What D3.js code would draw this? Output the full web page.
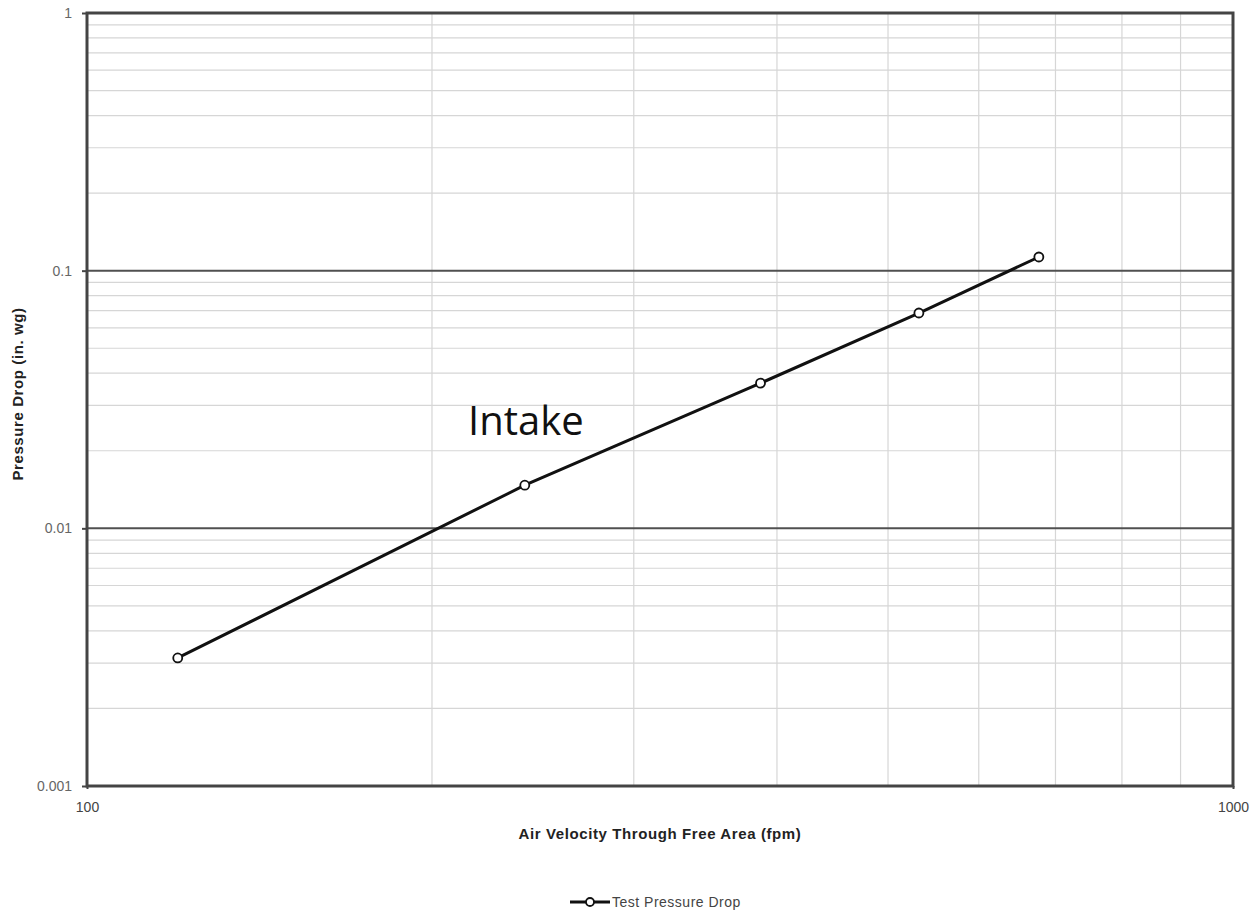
<!DOCTYPE html>
<html>
<head>
<meta charset="utf-8">
<script src="https://cdn.jsdelivr.net/npm/d3@7"></script>
<style>
  body { margin: 0; background: #fff; }
  svg { display: block; font-family: "Liberation Sans", Arial, sans-serif; }
</style>
</head>
<body>
<svg id="chart" width="1259" height="912"></svg>
<script>
// data
const velocity = [120, 241, 387, 532, 677];
const pressureDrop = [0.00314, 0.0147, 0.0366, 0.0685, 0.113];
const xTicks = [100, 1000];
const yTicks = [0.001, 0.01, 0.1, 1];
const seriesName = 'Test Pressure Drop';

const svg = d3.select('#chart');
const margin = { top: 13, right: 26, bottom: 126, left: 87 };
const width = 1259 - margin.left - margin.right;
const height = 912 - margin.top - margin.bottom;

const x = d3.scaleLog().domain([100, 1000]).range([margin.left, margin.left + width]);
const y = d3.scaleLog().domain([0.001, 1]).range([margin.top + height, margin.top]);

// minor grid
const minorX = [];
for (let i = 2; i <= 9; i++) minorX.push(i * 100);
const minorY = [];
[0.001, 0.01, 0.1].forEach(d => { for (let i = 2; i <= 9; i++) minorY.push(d * i); });

svg.append('g').selectAll('line').data(minorX).join('line')
  .attr('x1', d => x(d)).attr('x2', d => x(d))
  .attr('y1', margin.top).attr('y2', margin.top + height)
  .attr('stroke', '#d6d6d6').attr('stroke-width', 1.2);

svg.append('g').selectAll('line').data(minorY).join('line')
  .attr('x1', margin.left).attr('x2', margin.left + width)
  .attr('y1', d => y(d)).attr('y2', d => y(d))
  .attr('stroke', '#d6d6d6').attr('stroke-width', 1.2);

// major horizontal grid
svg.append('g').selectAll('line').data([0.01, 0.1]).join('line')
  .attr('x1', margin.left).attr('x2', margin.left + width)
  .attr('y1', d => y(d)).attr('y2', d => y(d))
  .attr('stroke', '#505050').attr('stroke-width', 2);

// frame
svg.append('rect')
  .attr('x', margin.left).attr('y', margin.top)
  .attr('width', width).attr('height', height)
  .attr('fill', 'none').attr('stroke', '#444').attr('stroke-width', 3);

// axes
const yAxis = svg.append('g')
  .attr('transform', `translate(${margin.left},0)`)
  .call(d3.axisLeft(y).tickValues(yTicks).tickFormat(d3.format('~g')).tickSize(5).tickPadding(10));
yAxis.select('.domain').remove();
yAxis.selectAll('line').attr('stroke', '#444').attr('stroke-width', 2);
yAxis.selectAll('text').attr('fill', '#666').style('font-size', '14px');

const xAxis = svg.append('g')
  .attr('transform', `translate(0,${margin.top + height})`)
  .call(d3.axisBottom(x).tickValues(xTicks).tickFormat(d3.format('~g')).tickSize(3).tickPadding(13));
xAxis.select('.domain').remove();
xAxis.selectAll('line').attr('stroke', '#444').attr('stroke-width', 2);
xAxis.selectAll('text').attr('fill', '#444').style('font-size', '14px');

// axis titles
svg.append('text')
  .attr('transform', `translate(23,394) rotate(-90)`)
  .attr('text-anchor', 'middle')
  .style('font-size', '15px').style('font-weight', 'bold').style('letter-spacing', '0.6px')
  .attr('fill', '#222')
  .text('Pressure Drop (in. wg)');

svg.append('text')
  .attr('x', 660).attr('y', 839)
  .attr('text-anchor', 'middle')
  .style('font-size', '15px').style('font-weight', 'bold').style('letter-spacing', '0.6px')
  .attr('fill', '#222')
  .text('Air Velocity  Through Free Area (fpm)');

// series
const points = velocity.map((v, i) => ({ v, p: pressureDrop[i] }));
const line = d3.line().x(d => x(d.v)).y(d => y(d.p));

svg.append('path')
  .datum(points)
  .attr('fill', 'none').attr('stroke', '#111').attr('stroke-width', 3)
  .attr('d', line);

svg.append('g').selectAll('circle').data(points).join('circle')
  .attr('cx', d => x(d.v)).attr('cy', d => y(d.p)).attr('r', 4.5)
  .attr('fill', '#fff').attr('stroke', '#111').attr('stroke-width', 1.8);

// annotation
svg.append('text')
  .attr('x', 468).attr('y', 435)
  .style('font-family', '"Open Sans", sans-serif').style('font-size', '40px')
  .attr('fill', '#111')
  .text('Intake');

// legend
const lg = svg.append('g').attr('transform', 'translate(570,902)');
lg.append('line').attr('x1', 0).attr('x2', 40).attr('y1', 0).attr('y2', 0)
  .attr('stroke', '#111').attr('stroke-width', 3);
lg.append('circle').attr('cx', 20).attr('cy', 0).attr('r', 4)
  .attr('fill', '#fff').attr('stroke', '#111').attr('stroke-width', 1.8);
lg.append('text').attr('x', 42).attr('y', 5)
  .style('font-size', '14px').style('letter-spacing', '0.5px').attr('fill', '#444')
  .text(seriesName);
</script>
</body>
</html>
